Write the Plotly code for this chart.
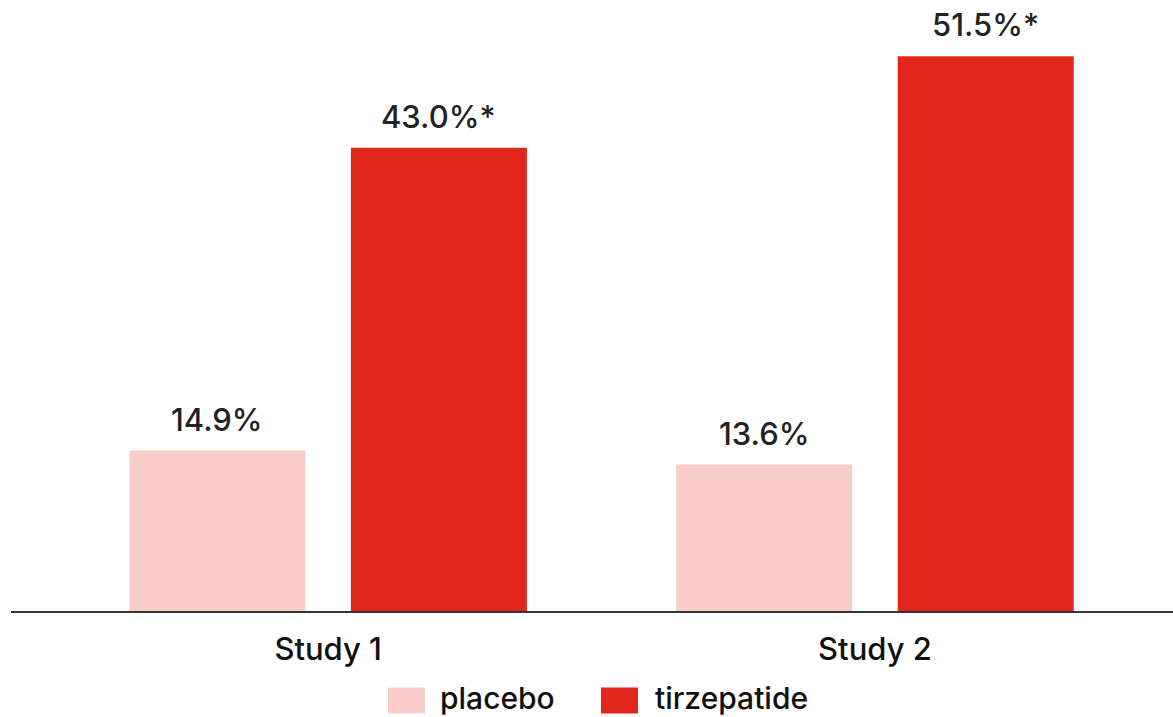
import plotly.graph_objects as go

# Data
studies = ["Study 1", "Study 2"]
series_names = ["placebo", "tirzepatide"]
placebo = [14.9, 13.6]
tirzepatide = [43.0, 51.5]
markers = ["", "*"]  # significance marker appended per series
colors = ["#F9CEC8", "#E1261C"]

values = [placebo, tirzepatide]

FONT = "Inter"
FSIZE = 31
BARGAP = 0.19
GROUPGAP = 0.205
slot = (1 - BARGAP) / len(values)

fig = go.Figure()
for name, vals, col in zip(series_names, values, colors):
    fig.add_trace(go.Bar(
        x=list(range(len(studies))), y=vals, name=name,
        marker=dict(color=col, line=dict(width=0)),
        showlegend=False, hoverinfo="skip",
    ))

# value labels above the bars
annotations = []
for i, (vals, mk) in enumerate(zip(values, markers)):
    off = (i - (len(values) - 1) / 2) * slot
    for j, v in enumerate(vals):
        annotations.append(dict(
            x=j + off, y=v, xref="x", yref="y",
            text=f"{v:.1f}%{mk}", showarrow=False,
            yanchor="bottom", yshift=11,
            font=dict(family=FONT, size=FSIZE, color="#222222", weight=500),
        ))

# legend drawn as swatches + labels below the axis
shapes = []
legend_items = [(388, 439), (601, 654)]
for (sx, tx), name, col in zip(legend_items, series_names, colors):
    shapes.append(dict(
        type="rect", xref="paper", yref="paper",
        x0=(sx - 11) / 1162, x1=(sx + 37 - 11) / 1162,
        y0=-(688 - 611.5) / 611.5, y1=-(714 - 611.5) / 611.5,
        fillcolor=col, line=dict(width=0), layer="above",
    ))
    annotations.append(dict(
        x=(tx - 11) / 1162, y=-(698.5 - 611.5) / 611.5,
        xref="paper", yref="paper", xanchor="left", yanchor="middle",
        text=name, showarrow=False, borderpad=0,
        font=dict(family=FONT, size=30, color="#111111", weight=500),
    ))

fig.update_layout(
    width=1173, height=717,
    margin=dict(l=11, r=0, t=0, b=105.5),
    paper_bgcolor="white", plot_bgcolor="white",
    barmode="group", bargap=BARGAP, bargroupgap=GROUPGAP,
    font=dict(family=FONT),
    annotations=annotations, shapes=shapes,
    xaxis=dict(
        tickmode="array", tickvals=list(range(len(studies))), ticktext=studies,
        range=[-0.58, 1.545], showgrid=False, zeroline=False,
        showline=True, linecolor="#333333", linewidth=1.5,
        ticks="", ticklabelstandoff=10,
        tickfont=dict(family=FONT, size=FSIZE, color="#111111", weight=500),
    ),
    yaxis=dict(
        range=[0, 611.5 / 10.78], visible=False, showgrid=False, zeroline=False,
    ),
)

fig.write_html("out.html")
